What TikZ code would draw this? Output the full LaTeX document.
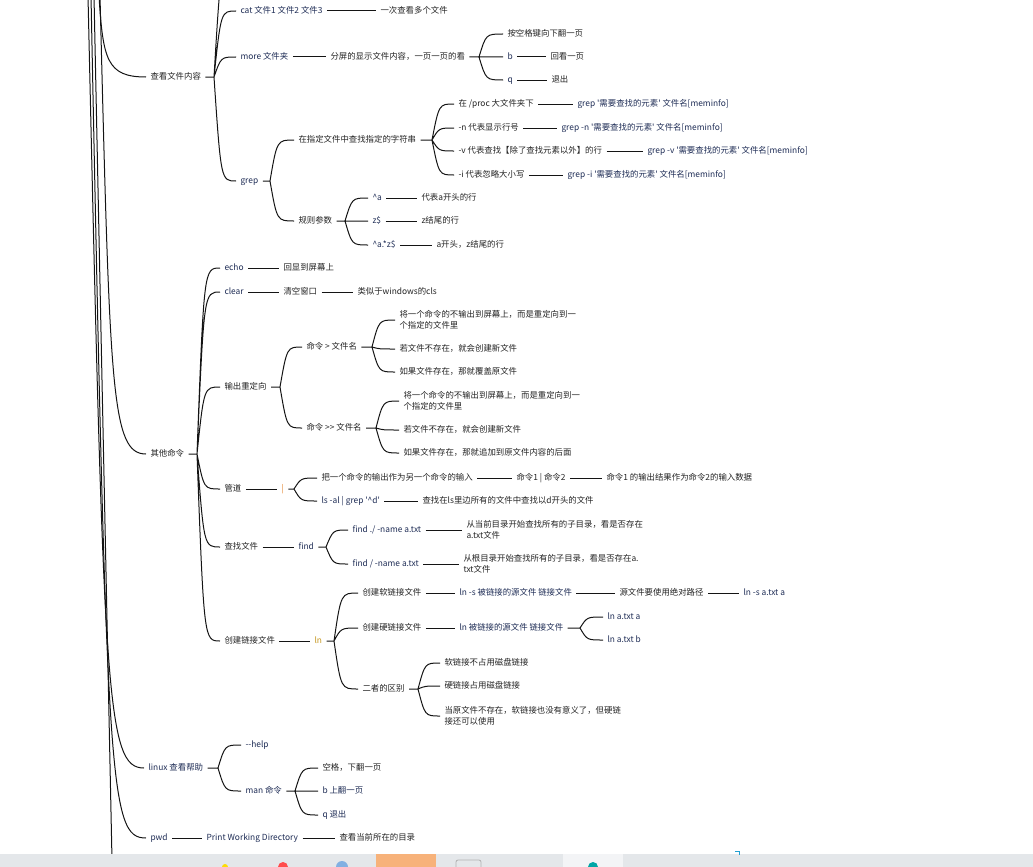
\documentclass[tikz,border=0pt]{standalone}
\usepackage{fontspec}
\setmainfont{Noto Sans CJK SC}
\usetikzlibrary{calc}
\definecolor{inkline}{RGB}{20,20,20}
\definecolor{inktext}{RGB}{35,35,35}
\definecolor{inkcmd}{RGB}{30,44,85}
\definecolor{pipeor}{RGB}{226,128,40}
\definecolor{lnyel}{RGB}{196,150,30}
\definecolor{barg}{RGB}{228,231,234}
\definecolor{barorange}{RGB}{247,178,122}
\newcommand{\sq}{\textquotesingle}
\tikzset{
  word/.style={anchor=west, inner xsep=4pt, inner ysep=1pt, text height=6.6pt, text depth=1.9pt,
    font=\fontsize{8.4}{11.5}\selectfont},
  txt/.style={word, text=inktext},
  cmd/.style={word, text=inkcmd},
  para/.style={txt, text height={}, text depth={}, align=left},
  fan/.style={to path={.. controls ($(\tikztostart |- \tikztotarget)+(7,0)$) .. (\tikztotarget)}},
}
\begin{document}
\begin{tikzpicture}[x=1pt, y=-1pt, line width=1pt, inkline]
  \useasboundingbox (0,0) rectangle (1033,867);
  \clip (0,0) rectangle (1033,867);
  % branches coming down from the root above
  \coordinate (topA) at (99,-4);
  \coordinate (topB) at (100,-4);
  \coordinate (topC) at (88,-4);
  \coordinate (topD) at (91,-4);
  \coordinate (topE) at (94,-4);
  \coordinate (tail) at (112,860);

  % ---- 查看文件内容
  \node[txt] (look) at (146,77) {查看文件内容};
  \coordinate (lookF) at (214,77);
  \coordinate (lookUp) at (236,-40);
  \node[cmd] (cat) at (236,11) {cat 文件1 文件2 文件3};
  \node[txt] (cat1) at (376,11) {一次查看多个文件};
  \node[cmd] (more) at (236,57) {more 文件夹};
  \node[txt] (more1) at (326,57) {分屏的显示文件内容，一页一页的看};
  \coordinate (more1F) at (479,57);
  \node[txt] (more2) at (503,34) {按空格键向下翻一页};
  \node[cmd] (more3) at (503,57) {b};
  \node[txt] (more4) at (546,57) {回看一页};
  \node[cmd] (more5) at (503,80) {q};
  \node[txt] (more6) at (547,80) {退出};
  \node[cmd] (grep) at (236,181) {grep};
  \coordinate (grepF) at (270,181);
  \node[txt] (gs) at (294,140) {在指定文件中查找指定的字符串};
  \coordinate (gsF) at (432,140);
  \node[txt] (gs1) at (454,104) {在 /proc 大文件夹下};
  \node[cmd] (gs1c) at (573,104) {grep \sq 需要查找的元素\sq\ 文件名[meminfo]};
  \node[txt] (gs2) at (454,128) {-n 代表显示行号};
  \node[cmd] (gs2c) at (557,128) {grep -n \sq 需要查找的元素\sq\ 文件名[meminfo]};
  \node[txt] (gs3) at (454,151) {-v 代表查找【除了查找元素以外】的行};
  \node[cmd] (gs3c) at (643,151) {grep -v \sq 需要查找的元素\sq\ 文件名[meminfo]};
  \node[txt] (gs4) at (454,175) {-i 代表忽略大小写};
  \node[cmd] (gs4c) at (563,175) {grep -i \sq 需要查找的元素\sq\ 文件名[meminfo]};
  \node[txt] (gr) at (294,221) {规则参数};
  \coordinate (grF) at (345,221);
  \node[cmd] (gr1) at (368,198) {\textasciicircum a};
  \node[txt] (gr1t) at (417,198) {代表a开头的行};
  \node[cmd] (gr2) at (368,221) {z\$};
  \node[txt] (gr2t) at (417,221) {z结尾的行};
  \node[cmd] (gr3) at (368,245) {\textasciicircum a.*z\$};
  \node[txt] (gr3t) at (432,245) {a开头，z结尾的行};

  % ---- 其他命令
  \node[txt] (misc) at (146,454) {其他命令};
  \coordinate (miscF) at (197,454);
  \node[cmd] (echo) at (220,268) {echo};
  \node[txt] (echo1) at (279,268) {回显到屏幕上};
  \node[cmd] (clear) at (220,292) {clear};
  \node[txt] (clear1) at (279,292) {清空窗口};
  \node[txt] (clear2) at (353,292) {类似于windows的cls};
  \node[txt] (redir) at (220,387) {输出重定向};
  \coordinate (redirF) at (280,387);
  \node[txt] (rd1) at (302,347) {命令 > 文件名};
  \coordinate (rd1F) at (372,347);
  \node[para] (rd1a) at (395,320) {将一个命令的不输出到屏幕上，而是重定向到一\\个指定的文件里};
  \node[txt] (rd1b) at (395,349) {若文件不存在，就会创建新文件};
  \node[txt] (rd1c) at (395,372) {如果文件存在，那就覆盖原文件};
  \node[txt] (rd2) at (302,428) {命令 >{}> 文件名};
  \coordinate (rd2F) at (376,428);
  \node[para] (rd2a) at (399,401) {将一个命令的不输出到屏幕上，而是重定向到一\\个指定的文件里};
  \node[txt] (rd2b) at (399,430) {若文件不存在，就会创建新文件};
  \node[txt] (rd2c) at (399,453) {如果文件存在，那就追加到原文件内容的后面};
  \node[txt] (pipe) at (220,489) {管道};
  \node[word, text=pipeor] (bar) at (277,489) {|};
  \coordinate (barF) at (294,489);
  \node[txt] (bar1) at (317,478) {把一个命令的输出作为另一个命令的输入};
  \node[txt] (bar1a) at (512,478) {命令1 | 命令2};
  \node[txt] (bar1b) at (602,478) {命令1 的输出结果作为命令2的输入数据};
  \node[cmd] (bar2) at (317,501) {ls -al | grep \sq\textasciicircum d\sq};
  \node[txt] (bar2a) at (418,501) {查找在ls里边所有的文件中查找以d开头的文件};
  \node[txt] (seek) at (220,547) {查找文件};
  \node[cmd] (find) at (294,547) {find};
  \coordinate (findF) at (326,547);
  \node[cmd] (find1) at (348,530) {find ./ -name a.txt};
  \node[para] (find1a) at (462,530) {从当前目录开始查找所有的子目录，看是否存在\\a.txt文件};
  \node[cmd] (find2) at (348,564) {find / -name a.txt};
  \node[para] (find2a) at (459,564) {从根目录开始查找所有的子目录，看是否存在a.\\txt文件};
  \node[txt] (link) at (220,641) {创建链接文件};
  \node[word, text=lnyel] (ln) at (310,641) {ln};
  \coordinate (lnF) at (334,641);
  \node[txt] (soft) at (358,593) {创建软链接文件};
  \node[cmd] (soft1) at (455,593) {ln -s 被链接的源文件 链接文件};
  \node[txt] (soft2) at (615,593) {源文件要使用绝对路径};
  \node[cmd] (soft3) at (739,593) {ln -s a.txt a};
  \node[txt] (hard) at (358,628) {创建硬链接文件};
  \node[cmd] (hard1) at (455,628) {ln 被链接的源文件 链接文件};
  \coordinate (hard1F) at (580,628);
  \node[cmd] (hard2) at (603,617) {ln a.txt a};
  \node[cmd] (hard3) at (603,640) {ln a.txt b};
  \node[txt] (diff) at (358,689) {二者的区别};
  \coordinate (diffF) at (418,689);
  \node[txt] (diff1) at (440,663) {软链接不占用磁盘链接};
  \node[txt] (diff2) at (440,686) {硬链接占用磁盘链接};
  \node[para] (diff3) at (440,716) {当原文件不存在，软链接也没有意义了，但硬链\\接还可以使用};

  % ---- linux 查看帮助
  \node[cmd] (help) at (144,768) {linux 查看帮助};
  \coordinate (helpF) at (218,768);
  \node[cmd] (help1) at (241,745) {-{}-help};
  \node[cmd] (man) at (241,791) {man 命令};
  \coordinate (manF) at (295,791);
  \node[txt] (man1) at (318,768) {空格，下翻一页};
  \node[cmd] (man2) at (318,791) {b 上翻一页};
  \node[cmd] (man3) at (318,815) {q 退出};

  % ---- pwd
  \node[cmd] (pwd) at (146,838) {pwd};
  \node[cmd] (pwd1) at (202,838) {Print Working Directory};
  \node[txt] (pwd2) at (335,838) {查看当前所在的目录};

  % connectors from the root
  \draw (topA) .. controls (103,60) and (107,77) .. (look);
  \draw (topB) .. controls (110,390) and (111,454) .. (misc);
  \draw (topC) .. controls (104,700) and (106,768) .. (help);
  \draw (topD) .. controls (107,790) and (109,838) .. (pwd);
  \draw (topE) -- (tail);

  \draw (look) -- (lookF) to[fan] (cat) (lookF) to[fan] (more) (lookF) to[fan] (grep) (lookF) to[fan] (lookUp);
  \draw (cat) -- (cat1);
  \draw (more) -- (more1);
  \draw (more1) -- (more1F) to[fan] (more2) (more1F) to[fan] (more3) (more1F) to[fan] (more5);
  \draw (more3) -- (more4);
  \draw (more5) -- (more6);
  \draw (grep) -- (grepF) to[fan] (gs) (grepF) to[fan] (gr);
  \draw (gs) -- (gsF) to[fan] (gs1) (gsF) to[fan] (gs2) (gsF) to[fan] (gs3) (gsF) to[fan] (gs4);
  \draw (gs1) -- (gs1c);
  \draw (gs2) -- (gs2c);
  \draw (gs3) -- (gs3c);
  \draw (gs4) -- (gs4c);
  \draw (gr) -- (grF) to[fan] (gr1) (grF) to[fan] (gr2) (grF) to[fan] (gr3);
  \draw (gr1) -- (gr1t);
  \draw (gr2) -- (gr2t);
  \draw (gr3) -- (gr3t);

  \draw (misc) -- (miscF) to[fan] (echo) (miscF) to[fan] (clear) (miscF) to[fan] (redir)
    (miscF) to[fan] (pipe) (miscF) to[fan] (seek) (miscF) to[fan] (link);
  \draw (echo) -- (echo1);
  \draw (clear) -- (clear1);
  \draw (clear1) -- (clear2);
  \draw (redir) -- (redirF) to[fan] (rd1) (redirF) to[fan] (rd2);
  \draw (rd1) -- (rd1F) to[fan] (rd1a) (rd1F) to[fan] (rd1b) (rd1F) to[fan] (rd1c);
  \draw (rd2) -- (rd2F) to[fan] (rd2a) (rd2F) to[fan] (rd2b) (rd2F) to[fan] (rd2c);
  \draw (pipe) -- (bar);
  \draw (bar) -- (barF) to[fan] (bar1) (barF) to[fan] (bar2);
  \draw (bar1) -- (bar1a);
  \draw (bar1a) -- (bar1b);
  \draw (bar2) -- (bar2a);
  \draw (seek) -- (find);
  \draw (find) -- (findF) to[fan] (find1) (findF) to[fan] (find2);
  \draw (find1) -- (find1a);
  \draw (find2) -- (find2a);
  \draw (link) -- (ln);
  \draw (ln) -- (lnF) to[fan] (soft) (lnF) to[fan] (hard) (lnF) to[fan] (diff);
  \draw (soft) -- (soft1);
  \draw (soft1) -- (soft2);
  \draw (soft2) -- (soft3);
  \draw (hard) -- (hard1);
  \draw (hard1) -- (hard1F) to[fan] (hard2) (hard1F) to[fan] (hard3);
  \draw (diff) -- (diffF) to[fan] (diff1) (diffF) to[fan] (diff2) (diffF) to[fan] (diff3);

  \draw (help) -- (helpF) to[fan] (help1) (helpF) to[fan] (man);
  \draw (man) -- (manF) to[fan] (man1) (manF) to[fan] (man2) (manF) to[fan] (man3);

  \draw (pwd) -- (pwd1);
  \draw (pwd1) -- (pwd2);

  % screen bar along the bottom
  \fill[barg] (0,854) rectangle (1033,867);
  \fill[barorange] (376,854) rectangle (436,867);
  \fill[white!55!barg] (563,854) rectangle (623,867);
  \fill[yellow!80!orange] (225,867) circle (3);
  \fill[red!70!white] (283,867) circle (5);
  \fill[cyan!60!blue!50!white] (342,867) circle (6);
  \draw[gray!60, line width=0.8pt, rounded corners=2pt] (456,867) -- (456,860) -- (481,860) -- (481,867);
  \fill[teal!70!cyan] (593,867) circle (5);
  \draw[cyan!70!teal, line width=0.8pt] (735,851) -- (739,851) -- (739,855);
\end{tikzpicture}
\end{document}
